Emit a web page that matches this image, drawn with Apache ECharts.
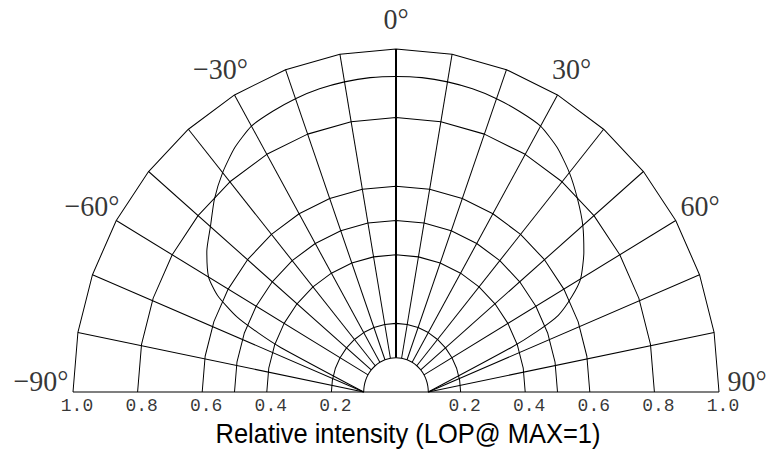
<!DOCTYPE html>
<html><head><meta charset="utf-8">
<script src="https://cdn.jsdelivr.net/npm/echarts@6/dist/echarts.min.js"></script>
<style>
html,body{margin:0;padding:0;background:#fff;overflow:hidden;width:767px;height:454px;}
#c{width:767px;height:454px;transform:scaleY(1.062);transform-origin:0 392px;}
</style></head><body><div id="c"></div>
<script>
// grid rings (relative intensity) and grid angles
const ringValues = [0.1, 0.2, 0.4, 0.5, 0.6, 0.8, 1.0];
const gridAngles = [-90, -80, -70, -60, -50, -40, -30, -20, -10, 0, 10, 20, 30, 40, 50, 60, 70, 80, 90];
const spokeAngles = [-80, -70, -60, -50, -40, -30, -20, -10, 0, 10, 20, 30, 40, 50, 60, 70, 80];
const tickValues = [1.0, 0.8, 0.6, 0.4, 0.2];
const degreeLabels = [-90, -60, -30, 0, 30, 60, 90];
// radiation pattern (angle in degrees, relative intensity)
const patternAngles = [-90, -70, -68, -66, -63, -60, -55, -50, -45, -40, -35, -30, -25, -20, -15, -10, -5, 0, 5, 10, 15, 20, 25, 30, 35, 40, 45, 50, 55, 60, 63, 66, 68, 70, 90];
const patternValues = [0.1, 0.38, 0.46, 0.54, 0.62, 0.67, 0.715, 0.75, 0.795, 0.835, 0.87, 0.895, 0.903, 0.91, 0.915, 0.918, 0.92, 0.92, 0.92, 0.918, 0.915, 0.91, 0.903, 0.895, 0.87, 0.835, 0.795, 0.755, 0.71, 0.66, 0.61, 0.55, 0.47, 0.38, 0.1];
const axisTitle = 'Relative intensity (LOP@ MAX=1)';

const INNER = ringValues[0];
const OUTER = ringValues[ringValues.length - 1];
const LABEL_R = 1.087;
const AXIS_MAX = 1.1;

const lineBase = {
  type: 'line', coordinateSystem: 'polar', showSymbol: false, symbol: 'none',
  silent: true, animation: false, z: 2,
  lineStyle: { color: '#000', width: 1 }
};

const series = [];
// rings
ringValues.forEach(v => {
  series.push(Object.assign({}, lineBase, {
    smooth: v === INNER,
    data: gridAngles.map(a => [v, a])
  }));
});
// spokes
spokeAngles.forEach(a => {
  const innerAngle = Math.abs(a) >= 70 ? Math.sign(a) * 90 : a;
  series.push(Object.assign({}, lineBase, {
    lineStyle: { color: '#000', width: a === 0 ? 2 : 1 },
    data: [[INNER, innerAngle], [OUTER, a]]
  }));
});
// baseline
series.push(Object.assign({}, lineBase, { data: [[OUTER, -90], [OUTER, 90]] }));
// pattern
series.push(Object.assign({}, lineBase, {
  smooth: 0.2, z: 3,
  data: patternAngles.map((a, i) => [patternValues[i], a])
}));
// tick labels
series.push({
  type: 'scatter', coordinateSystem: 'polar', symbolSize: 1, silent: true, animation: false,
  itemStyle: { color: 'rgba(0,0,0,0)' },
  label: {
    show: true, position: 'bottom', distance: 4, offset: [4, 0],
    color: '#000', fontFamily: 'Liberation Mono', fontSize: 18,
    formatter: p => p.value[0].toFixed(1)
  },
  data: tickValues.flatMap(v => [[v, -90], [v, 90]])
});
// degree labels
series.push({
  type: 'scatter', coordinateSystem: 'polar', symbolSize: 1, silent: true, animation: false,
  itemStyle: { color: 'rgba(0,0,0,0)' },
  label: {
    show: true, position: 'inside',
    color: '#000', fontFamily: 'Liberation Serif', fontSize: 28,
    formatter: p => (p.value[1] < 0 ? '\u2212' : '') + Math.abs(p.value[1]) + '\u00b0'
  },
  data: degreeLabels.map(a => ({
    value: [LABEL_R, a],
    label: Math.abs(a) === 90 ? { offset: [a < 0 ? -4 : 0, -11] } : {}
  }))
});

const chart = echarts.init(document.getElementById('c'), null, { renderer: 'svg' });
chart.setOption({
  animation: false,
  backgroundColor: '#fff',
  polar: { center: [396, 392], radius: 323 * AXIS_MAX },
  angleAxis: { type: 'value', min: -180, max: 180, startAngle: 270, clockwise: true, show: false },
  radiusAxis: { type: 'value', min: 0, max: AXIS_MAX, show: false },
  graphic: [{
    type: 'text', x: 408, y: 431,
    style: { text: axisTitle, fill: '#000', font: '25.5px "Liberation Sans", Arial, sans-serif', textAlign: 'center', textVerticalAlign: 'middle' }
  }],
  series: series
});
</script>
</body></html>
